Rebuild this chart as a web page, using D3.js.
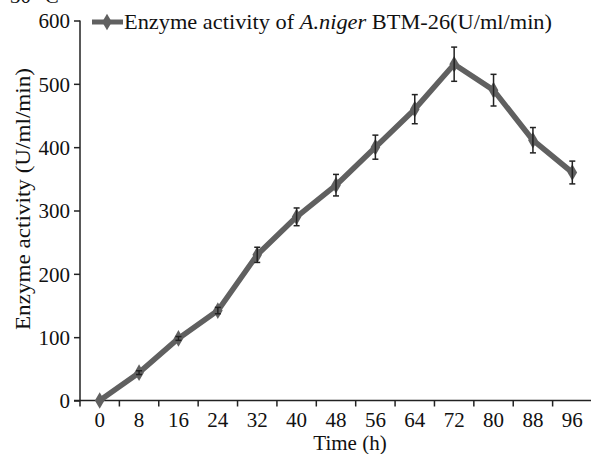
<!DOCTYPE html>
<html><head><meta charset="utf-8">
<script src="https://cdn.jsdelivr.net/npm/d3@7"></script>
<style>
body{margin:0;background:#fff}
svg text{font-family:"Liberation Serif","Times New Roman",serif;fill:#111}
</style></head>
<body><svg id="c" width="591" height="454"></svg>
<script>
const times = ["0","8","16","24","32","40","48","56","64","72","80","88","96"];
const activity = [0,44,98,142,230,290,340,400,460,531,490,411,360];
const errors = [0,3,3,5,12,14,17,19,23,27,25,20,18];
const yTicks = [0,100,200,300,400,500,600];

const svg = d3.select("#c");
const x = d3.scaleBand().domain(times).range([80,592]).padding(0);
const y = d3.scaleLinear().domain([0,600]).range([400.5,20.5]);
const lineColor = "#606060";

// cropped top-left text
svg.append("text").attr("x",10).attr("y",2.5).attr("font-size",21).text("30 °C");

// y axis
const ya = svg.append("g").attr("transform","translate(80,0)")
  .call(d3.axisLeft(y).tickValues(yTicks).tickSize(6).tickPadding(4));
ya.select(".domain").attr("stroke","#222").attr("stroke-width",1.5).attr("d","M0,"+y(600)+"V"+y(0));
ya.selectAll(".tick line").attr("stroke","#222").attr("stroke-width",1.5);
ya.selectAll(".tick text").attr("font-size",21).attr("font-family","Liberation Serif").attr("fill","#111").attr("dy","0.35em");

// x axis
const xa = svg.append("g").attr("transform","translate(0,"+y(0)+")");
xa.append("line").attr("x1",74).attr("x2",592).attr("stroke","#222").attr("stroke-width",1.5);
const bounds = times.map(t=>x(t));
xa.selectAll("line.tk").data(bounds).join("line").attr("class","tk")
  .attr("x1",d=>d).attr("x2",d=>d).attr("y1",0).attr("y2",6).attr("stroke","#222").attr("stroke-width",1.5);
xa.selectAll("text.tl").data(times).join("text").attr("class","tl")
  .attr("x",d=>x(d)+x.bandwidth()/2).attr("y",26.5).attr("text-anchor","middle").attr("font-size",21).text(d=>d);

// axis titles
svg.append("text").attr("x",350).attr("y",450).attr("text-anchor","middle").attr("font-size",21).text("Time (h)");
svg.append("text").attr("transform","translate(30,199) rotate(-90)").attr("text-anchor","middle").attr("font-size",22)
  .attr("textLength",262).attr("lengthAdjust","spacingAndGlyphs").text("Enzyme activity (U/ml/min)");

const cx = d=>x(d)+x.bandwidth()/2;
const data = times.map((t,i)=>({t,v:activity[i],e:errors[i]}));

// line
svg.append("path").datum(data).attr("fill","none").attr("stroke",lineColor).attr("stroke-width",5.5)
  .attr("stroke-linejoin","round")
  .attr("d",d3.line().x(d=>cx(d.t)).y(d=>y(d.v)));

// markers
const sym = d3.symbol().type(d3.symbolDiamond).size(80);
svg.selectAll("path.mk").data(data).join("path").attr("class","mk")
  .attr("transform",d=>`translate(${cx(d.t)},${y(d.v)})`).attr("d",sym).attr("fill",lineColor);

// error bars
const eb = svg.selectAll("g.eb").data(data.filter(d=>d.e>0)).join("g").attr("class","eb")
  .attr("stroke","#222").attr("stroke-width",1.5);
eb.append("line").attr("x1",d=>cx(d.t)).attr("x2",d=>cx(d.t)).attr("y1",d=>y(d.v+d.e)).attr("y2",d=>y(d.v-d.e));
eb.append("line").attr("x1",d=>cx(d.t)-3).attr("x2",d=>cx(d.t)+3).attr("y1",d=>y(d.v+d.e)).attr("y2",d=>y(d.v+d.e));
eb.append("line").attr("x1",d=>cx(d.t)-3).attr("x2",d=>cx(d.t)+3).attr("y1",d=>y(d.v-d.e)).attr("y2",d=>y(d.v-d.e));

// legend
const lg = svg.append("g");
lg.append("line").attr("x1",92).attr("x2",123).attr("y1",22).attr("y2",22).attr("stroke",lineColor).attr("stroke-width",5);
lg.append("path").attr("transform","translate(107,22)").attr("d",sym).attr("fill",lineColor);
const lt = lg.append("text").attr("x",124).attr("y",29).attr("font-size",22)
  .attr("textLength",428).attr("lengthAdjust","spacingAndGlyphs");
lt.append("tspan").text("Enzyme activity of ");
lt.append("tspan").attr("font-style","italic").text("A.niger");
lt.append("tspan").text(" BTM-26(U/ml/min)");
</script></body></html>
